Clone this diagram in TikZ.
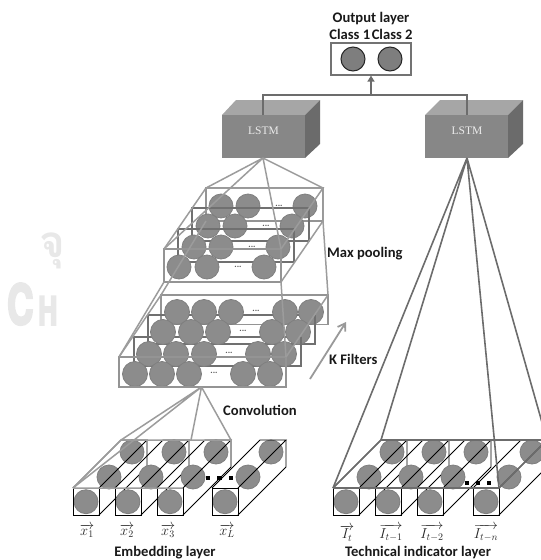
\documentclass[tikz,border=0pt]{standalone}
\usepackage{fontspec}
\setmainfont{Carlito}
\newfontfamily\thaiwm[Script=Thai]{Loma}
\newfontfamily\serifwm{Liberation Serif}
\newfontfamily\heroswm[BoldFeatures={FakeBold=5}]{TeX Gyre Heros}
\usetikzlibrary{arrows.meta}
\definecolor{ball}{HTML}{8C8C8C}
\definecolor{ballrim}{HTML}{7F7F7F}
\definecolor{platecol}{HTML}{949494}
\definecolor{platedark}{HTML}{707070}
\definecolor{filterlt}{HTML}{9C9C9C}
\definecolor{filterdk}{HTML}{6C6C6C}
\tikzset{
  ballst/.style={fill=ball,draw=ballrim,line width=0.8pt},
  outball/.style={fill=ball!90!black,draw=black!85,line width=1pt},
  cellln/.style={draw=black,line width=0.95pt},
  plate/.style={draw=platecol,line width=1.5pt},
  platedk/.style={draw=platedark,line width=1.4pt},
  ltcon/.style={draw=filterlt,line width=1.5pt},
  dkcon/.style={draw=filterdk,line width=1.6pt},
  caption/.style={font=\bfseries\fontsize{14.6}{14.6}\selectfont,text=black!90,inner sep=0pt},
  veclab/.style={font=\fontsize{14}{14}\selectfont,text=black!85,inner sep=0pt},
  wdots/.style={font=\bfseries\fontsize{9}{9}\selectfont,text=black!65,inner sep=0pt},
  lstmlab/.style={font=\serifwm\fontsize{11.5}{11.5}\selectfont,text=white!92!black,inner sep=0pt},
  mark dot/.style={fill=black,draw=none},
  wm/.style={text=black!9,inner sep=0pt}
}
\newcommand\inputcell[1]{%
  \path[ballst] (#1+13,501.7) circle (12);
  \path[ballst] (#1+36,477) circle (12);
  \path[ballst] (#1+59,452) circle (12);
  \draw[cellln] (#1,488) rectangle (#1+26,515);
  \draw[cellln] (#1,488) -- (#1+48,440) -- (#1+74,440) -- (#1+26,488);
  \draw[cellln] (#1+26,515) -- (#1+74,467) -- (#1+74,440);
}
\newcommand\platebox[5]{\draw[#5] (#1,#2) rectangle (#3,#4);}
\begin{document}
\begin{tikzpicture}[x=1pt,y=-1pt]
\useasboundingbox (0,0) rectangle (541,560);
\clip (0,0) rectangle (541,560);

% faint watermark
\node[wm,font=\heroswm\bfseries\fontsize{55}{55}\selectfont,anchor=south west] (wmc) at (7,325) {\scalebox{.66}[1]{C}};
\node[wm,font=\heroswm\bfseries\fontsize{39}{39}\selectfont,anchor=south west] (wmh) at (38,325) {\scalebox{.68}[1]{H}};
\node[wm,font=\thaiwm\bfseries\fontsize{44}{44}\selectfont,anchor=center] (wmth) at (52,251) {จุ};

% output layer
\node[draw=black!55,line width=1.2pt,minimum width=80pt,minimum height=32pt,inner sep=0pt] (outbox) at (371,59) {};
\node[outball,circle,minimum size=24pt,inner sep=0pt] (class1) at (353,59) {};
\node[outball,circle,minimum size=24pt,inner sep=0pt] (class2) at (390,59) {};
\node[caption] (outlab) at (371,19) {Output layer};
\node[caption] (classlab) at (371,34) {Class 1\hspace{1.5pt}Class 2};

% LSTM boxes
\fill[black!35] (222,115) -- (236,100) -- (320,100) -- (305,115) -- cycle;
\fill[black!58] (305,115) -- (320,100) -- (320,144) -- (305,158) -- cycle;
\fill[black!47] (222,115) rectangle (305,158);
\fill[black!35] (425,115) -- (440,100) -- (523,100) -- (508,115) -- cycle;
\fill[black!58] (508,115) -- (523,100) -- (523,144) -- (508,158) -- cycle;
\fill[black!47] (425,115) rectangle (508,158);
\node[lstmlab] (lstm1) at (263.5,131) {LSTM};
\node[lstmlab] (lstm2) at (467,131) {LSTM};

% LSTM to output
\coordinate (top1) at (263,115);
\coordinate (top2) at (467,115);
\coordinate (join) at (371,95);
\draw[dkcon,line width=1.5pt] (top1) |- (join) -| (top2);
\draw[dkcon,line width=1.8pt,-{Triangle[length=6pt,width=7pt]}] (join) -- (outbox.south);

% Max pooling stack: plates, then balls, back to front
\platebox{206}{188}{323}{221}{plate}
\platebox{192}{208}{309}{241}{platedk}
\platebox{178}{229}{294}{262}{platedk}
\foreach \l/\t/\a/\b/\c in {206/188/221/248/305, 192/208/208/235/292, 178/229/194/221/278, 164/249/179/207/264}{
  \pgfmathsetmacro\cy{\t+18}
  \path[ballst] (\a,\cy) circle (12);
  \path[ballst] (\b,\cy) circle (12);
  \path[ballst] (\c,\cy) circle (12);
  \node[wdots] at (\b+31,\cy) {...};
}
\draw[platedk,line width=1.1pt] (192,208) -- (309,208) -- (309,241);
\draw[platedk,line width=1.1pt] (178,229) -- (294,229) -- (294,262);
\platebox{164}{249}{281}{282}{plate}

% Conv stack
\platebox{161}{295}{328}{324.5}{plate}
\platebox{148}{315}{315}{344}{platedk}
\platebox{134}{337}{301}{366}{platedk}
\foreach \l/\t/\a/\b/\c/\d/\e in {161/295/177/204/231/285/311, 148/315/163/191/218/272/298, 134/337/149/176/204/258/284, 119/357/135/162/189/243/270}{
  \pgfmathsetmacro\cy{\t+17}
  \path[ballst] (\a,\cy) circle (12.5);
  \path[ballst] (\b,\cy) circle (12.5);
  \path[ballst] (\c,\cy) circle (12.5);
  \path[ballst] (\d,\cy) circle (12.5);
  \path[ballst] (\e,\cy) circle (12.5);
  \node[wdots] at (\c+25,\cy-1) {...};
}
\draw[platedk,line width=1.1pt] (315,315) -- (315,344);
\draw[platedk,line width=1.1pt] (301,337) -- (301,366);
\platebox{119}{357}{286}{387}{plate}

% named corners
\coordinate (lbot) at (263,158);
\coordinate (rbot) at (467,158);
\coordinate (mfl) at (164,249);
\coordinate (mfr) at (281,249);
\coordinate (mbl) at (206,188);
\coordinate (mbr) at (323,188);
\coordinate (mflb) at (164,282);
\coordinate (mfrb) at (281,282);
\coordinate (mbrb) at (323,221);
\coordinate (mblb) at (206,221);
\coordinate (cfl) at (119,357);
\coordinate (cfr) at (286,357);
\coordinate (cbl) at (161,295);
\coordinate (cbr) at (328,295);
\coordinate (capex) at (201.5,387);

\draw[ltcon] (lbot) -- (mbl) (lbot) -- (mfl) (lbot) -- (mfr) (lbot) -- (mbr);
\draw[ltcon] (mfl) -- (mbl) -- (mbr) -- (mfr);
\draw[ltcon] (mfrb) -- (mbrb) -- (mbr);
\draw[ltcon] (mflb) -- (cfl) (mblb) -- (cbl) (mfrb) -- (cfr) (mbrb) -- (cbr);
\draw[ltcon] (cfl) -- (cbl) (cfr) -- (cbr);

% Embedding layer
\inputcell{73}
\inputcell{115}
\inputcell{157}
\inputcell{212}
\coordinate (e1) at (73,488);
\coordinate (e2) at (183,488);
\coordinate (e3) at (121,440);
\coordinate (e4) at (191,440);
\coordinate (e5) at (231,440);
\coordinate (e6) at (231,466);
\draw[ltcon] (capex) -- (e1) (capex) -- (e3) (capex) -- (e4) (capex) -- (e5);
\draw[ltcon] (e1) -- (e2) (e1) -- (e3) -- (e5) -- (e6);
\foreach \x in {208,219.5,231}{\fill[mark dot] (\x-2.2,475.8) rectangle (\x+2.2,480.2);}

% Technical layer
\inputcell{333}
\inputcell{375}
\inputcell{417}
\inputcell{473}
\coordinate (t1) at (333,488);
\coordinate (t2) at (499,488);
\coordinate (t3) at (381,440);
\coordinate (t4) at (547,440);
\draw[dkcon] (rbot) -- (t1) (rbot) -- (t3) (rbot) -- (t2) (rbot) -- (t4);
\draw[dkcon] (t1) -- (t2) -- (t4) (t1) -- (t3) -- (t4);
\foreach \x in {467,478,489}{\fill[mark dot] (\x-2.2,480.8) rectangle (\x+2.2,485.2);}

% K filters arrow
\coordinate (kfrom) at (310,379);
\coordinate (kto) at (346,322);
\draw[draw=black!40,line width=1.8pt,-{Straight Barb[length=7pt,width=9pt]}] (kfrom) -- (kto);

% captions
\node[caption,anchor=west] (maxlab) at (327,254) {Max pooling};
\node[caption,anchor=west] (klab) at (329,359) {K Filters};
\node[caption,anchor=west] (convlab) at (223,410) {Convolution};
\node[caption] (emblab) at (165,553) {Embedding layer};
\node[caption] (techlab) at (418,553) {Technical indicator layer};

% vector labels
\node[veclab] (x1) at (87,531) {$\overrightarrow{x_1}$};
\node[veclab] (x2) at (127,531) {$\overrightarrow{x_2}$};
\node[veclab] (x3) at (168,531) {$\overrightarrow{x_3}$};
\node[veclab] (xl) at (227,531) {$\overrightarrow{x_L}$};
\node[veclab] (i1) at (347,533) {$\overrightarrow{I_t}$};
\node[veclab] (i2) at (391,533) {$\overrightarrow{I_{t-1}}$};
\node[veclab] (i3) at (432,533) {$\overrightarrow{I_{t-2}}$};
\node[veclab] (i4) at (486,533) {$\overrightarrow{I_{t-n}}$};
\end{tikzpicture}
\end{document}
